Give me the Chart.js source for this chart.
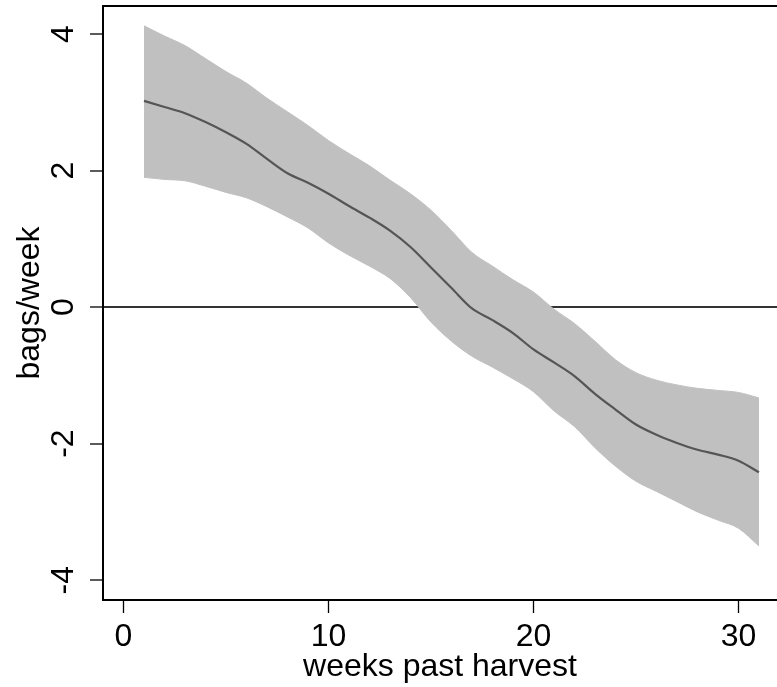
<!DOCTYPE html>
<html>
<head>
<meta charset="utf-8">
<script src="https://cdn.jsdelivr.net/npm/chart.js@4/dist/chart.umd.min.js"></script>
<style>
  html, body { margin: 0; padding: 0; background: #fff; overflow: hidden; }
  #wrap { width: 777px; height: 687px; position: relative; }
</style>
</head>
<body>
<div id="wrap"><canvas id="harvest"></canvas></div>
<script>
const weeks = [1, 2, 3, 4, 5, 6, 7, 8, 9, 10, 11, 12, 13, 14, 15, 16,
  17, 18, 19, 20, 21, 22, 23, 24, 25, 26, 27, 28, 29, 30, 31];

// fitted bags/week and its confidence band
const fitted = [3.02, 2.93, 2.84, 2.71, 2.56, 2.39, 2.17, 1.96, 1.82, 1.66, 1.48,
  1.31, 1.12, 0.88, 0.58, 0.28, -0.02, -0.19, -0.38, -0.62, -0.81, -1.01,
  -1.27, -1.50, -1.72, -1.87, -1.99, -2.09, -2.16, -2.25, -2.42];
const upperCI = [4.12, 3.97, 3.83, 3.64, 3.45, 3.28, 3.06, 2.86, 2.66, 2.44, 2.25,
  2.07, 1.86, 1.66, 1.42, 1.12, 0.80, 0.60, 0.40, 0.22, -0.03, -0.24, -0.50,
  -0.77, -0.96, -1.07, -1.14, -1.19, -1.22, -1.25, -1.33];
const lowerCI = [1.90, 1.87, 1.85, 1.77, 1.68, 1.60, 1.47, 1.32, 1.16, 0.94, 0.76,
  0.60, 0.42, 0.14, -0.22, -0.50, -0.72, -0.88, -1.05, -1.24, -1.52, -1.75,
  -2.06, -2.33, -2.55, -2.70, -2.85, -3.00, -3.12, -3.24, -3.50];

const xTicks = [0, 10, 20, 30];
const yTicks = [-4, -2, 0, 2, 4];

const font = { family: "'Liberation Sans', Arial, Helvetica, sans-serif", size: 32, lineHeight: 1 };

const toPoints = vals => weeks.map((w, i) => ({ x: w, y: vals[i] }));

// top edge of the plot box
const frameTop = {
  id: 'frameTop',
  afterDraw(chart) {
    const { ctx, chartArea } = chart;
    ctx.save();
    ctx.strokeStyle = '#000';
    ctx.lineWidth = 2;
    ctx.beginPath();
    ctx.moveTo(chartArea.left, chartArea.top);
    ctx.lineTo(chartArea.right, chartArea.top);
    ctx.stroke();
    ctx.restore();
  }
};

new Chart(document.getElementById('harvest'), {
  type: 'line',
  data: {
    datasets: [
      {
        data: toPoints(fitted),
        borderColor: '#555555',
        borderWidth: 2.2,
        pointRadius: 0,
        fill: false,
        cubicInterpolationMode: 'monotone'
      },
      {
        data: toPoints(upperCI),
        borderColor: '#c0c0c0',
        backgroundColor: '#c0c0c0',
        borderWidth: 1,
        pointRadius: 0,
        fill: '+1',
        cubicInterpolationMode: 'monotone'
      },
      {
        data: toPoints(lowerCI),
        borderColor: '#c0c0c0',
        borderWidth: 1,
        pointRadius: 0,
        fill: false,
        cubicInterpolationMode: 'monotone'
      }
    ]
  },
  options: {
    responsive: true,
    maintainAspectRatio: false,
    animation: false,
    layout: { padding: { top: 6, right: 0, bottom: 0, left: 0 } },
    plugins: { legend: { display: false }, tooltip: { enabled: false } },
    scales: {
      x: {
        type: 'linear',
        min: -1,
        max: 31.88,
        afterBuildTicks: s => { s.ticks = xTicks.map(v => ({ value: v })); },
        afterFit: s => { s.height = 87; s.paddingLeft = 0; s.paddingRight = 0; },
        border: { color: '#000', width: 2 },
        grid: { drawOnChartArea: false, tickLength: 13, tickColor: '#000', tickWidth: 1.3 },
        ticks: { color: '#000', font, padding: 8, maxRotation: 0 },
        title: {
          display: true,
          text: 'weeks past harvest',
          color: '#000',
          font,
          padding: { top: 0, bottom: 4 }
        }
      },
      y: {
        min: -4.29,
        max: 4.41,
        afterBuildTicks: s => { s.ticks = yTicks.map(v => ({ value: v })); },
        afterFit: s => { s.width = 103; s.paddingTop = 0; s.paddingBottom = 0; },
        border: { color: '#000', width: 2 },
        grid: {
          color: c => (c.tick && c.tick.value === 0 ? '#333333' : 'rgba(0,0,0,0)'),
          lineWidth: 2,
          tickLength: 13,
          tickColor: '#000',
          tickWidth: 1.3
        },
        ticks: { color: '#000', font, padding: 12, minRotation: 90, maxRotation: 90, crossAlign: 'center' },
        title: {
          display: true,
          text: 'bags/week',
          color: '#000',
          font,
          padding: { top: 14, bottom: 1 }
        }
      }
    }
  },
  plugins: [frameTop]
});
</script>
</body>
</html>
